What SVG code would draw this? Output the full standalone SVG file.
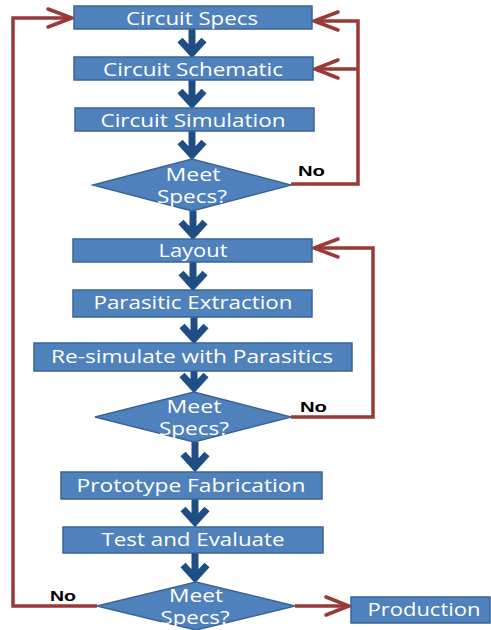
<svg xmlns="http://www.w3.org/2000/svg" width="491" height="630" viewBox="0 0 491 630">
  <defs>
    <style>
      .box { fill: #4f81bd; stroke: #3a6496; stroke-width: 1.5; }
      .dia { fill: #4f81bd; stroke: #3a6496; stroke-width: 1.5; }
      .lbl { font-family: "Open Sans", "Liberation Sans", sans-serif; font-size: 18px; fill: #ffffff; text-anchor: middle; }
      .no { font-family: "Liberation Sans", Arial, sans-serif; font-size: 15px; font-weight: bold; fill: #000000; text-anchor: middle; }
      .flow { fill: none; stroke: #1f4e85; stroke-width: 7; stroke-linejoin: miter; }
      .back { fill: none; stroke: #993a37; stroke-width: 3.5; stroke-linejoin: miter; }
      .head { fill: none; stroke: #993a37; stroke-width: 3.5; stroke-linecap: round; stroke-linejoin: miter; }
    </style>
  </defs>
  <rect width="491" height="630" fill="#ffffff"/>

  <!-- connectors -->
  <g id="connectors">
    <!-- main downward flow -->
    <path class="flow" d="M192 29 V52 M180 40 L192 53 L204 40"/>
    <path class="flow" d="M192 80 V103 M180 91 L192 104 L204 91"/>
    <path class="flow" d="M192 131 V154 M180 142 L192 155 L204 142"/>
    <path class="flow" d="M193 211 V235 M181 222 L193 235 L205 222"/>
    <path class="flow" d="M193 262 V286 M181 273 L193 286 L205 273"/>
    <path class="flow" d="M194 317 V339 M182 326 L194 339 L206 326"/>
    <path class="flow" d="M194 364 V388 M182 375 L194 388 L206 375"/>
    <path class="flow" d="M195 442 V467 M183 454 L195 467 L207 454"/>
    <path class="flow" d="M195 499 V522 M183 509 L195 522 L207 509"/>
    <path class="flow" d="M195 553 V578 M183 565 L195 578 L207 565"/>

    <!-- first check: back to specs and schematic -->
    <path class="back" d="M291 184 H358 V21 H314"/>
    <path class="back" d="M358 69 H315"/>
    <path class="head" d="M338 12 L314 21 L338 30"/>
    <path class="head" d="M338 60 L315 69 L338 78"/>

    <!-- second check: back to layout -->
    <path class="back" d="M291 417 H373 V248 H314"/>
    <path class="head" d="M338 239 L314 248 L338 257"/>

    <!-- final check: back to specs -->
    <path class="back" d="M97 606 H13 V18 H71"/>
    <path class="head" d="M48 9 L72 18 L48 27"/>

    <!-- final check: on to production -->
    <path class="back" d="M295 606 H348"/>
    <path class="head" d="M326 597 L349 606 L326 615"/>

    <text class="no" x="311.5" y="176" textLength="27" lengthAdjust="spacingAndGlyphs">No</text>
    <text class="no" x="313.5" y="412" textLength="27" lengthAdjust="spacingAndGlyphs">No</text>
    <text class="no" x="63" y="601" textLength="26" lengthAdjust="spacingAndGlyphs">No</text>
  </g>

  <g id="circuit-specs">
    <rect class="box" x="74" y="6" width="238" height="23"/>
    <text class="lbl" x="192" y="25" textLength="132" lengthAdjust="spacingAndGlyphs">Circuit Specs</text>
  </g>
  <g id="circuit-schematic">
    <rect class="box" x="74" y="57" width="239" height="23"/>
    <text class="lbl" x="193" y="76" textLength="180" lengthAdjust="spacingAndGlyphs">Circuit Schematic</text>
  </g>
  <g id="circuit-simulation">
    <rect class="box" x="75" y="108" width="239" height="23"/>
    <text class="lbl" x="193" y="127" textLength="185" lengthAdjust="spacingAndGlyphs">Circuit Simulation</text>
  </g>
  <g id="check-1">
    <polygon class="dia" points="93,185 192,159 291,185 192,211"/>
    <text class="lbl" x="193" y="181" textLength="55" lengthAdjust="spacingAndGlyphs">Meet</text>
    <text class="lbl" x="192" y="203" textLength="70" lengthAdjust="spacingAndGlyphs">Specs?</text>
  </g>
  <g id="layout">
    <rect class="box" x="73" y="239" width="239" height="23"/>
    <text class="lbl" x="193" y="257" textLength="69" lengthAdjust="spacingAndGlyphs">Layout</text>
  </g>
  <g id="parasitic-extraction">
    <rect class="box" x="73" y="290" width="239" height="27"/>
    <text class="lbl" x="193" y="309" textLength="199" lengthAdjust="spacingAndGlyphs">Parasitic Extraction</text>
  </g>
  <g id="resimulate">
    <rect class="box" x="34" y="343" width="318" height="28"/>
    <text class="lbl" x="192" y="363" textLength="282" lengthAdjust="spacingAndGlyphs">Re-simulate with Parasitics</text>
  </g>
  <g id="check-2">
    <polygon class="dia" points="95,417 194,392 291,417 194,442"/>
    <text class="lbl" x="194" y="413" textLength="55" lengthAdjust="spacingAndGlyphs">Meet</text>
    <text class="lbl" x="194" y="435" textLength="70" lengthAdjust="spacingAndGlyphs">Specs?</text>
  </g>
  <g id="prototype-fabrication">
    <rect class="box" x="61" y="472" width="261" height="27"/>
    <text class="lbl" x="191" y="492" textLength="229" lengthAdjust="spacingAndGlyphs">Prototype  Fabrication</text>
  </g>
  <g id="test-evaluate">
    <rect class="box" x="63" y="527" width="260" height="26"/>
    <text class="lbl" x="193" y="546" textLength="183" lengthAdjust="spacingAndGlyphs">Test and Evaluate</text>
  </g>
  <g id="check-3">
    <polygon class="dia" points="97,606 196,582 295,606 196,630"/>
    <text class="lbl" x="196" y="602" textLength="54" lengthAdjust="spacingAndGlyphs">Meet</text>
    <text class="lbl" x="195" y="624" textLength="69" lengthAdjust="spacingAndGlyphs">Specs?</text>
  </g>
  <g id="production">
    <rect class="box" x="351" y="597" width="139" height="26"/>
    <text class="lbl" x="424" y="616" textLength="113" lengthAdjust="spacingAndGlyphs">Production</text>
  </g>
</svg>
